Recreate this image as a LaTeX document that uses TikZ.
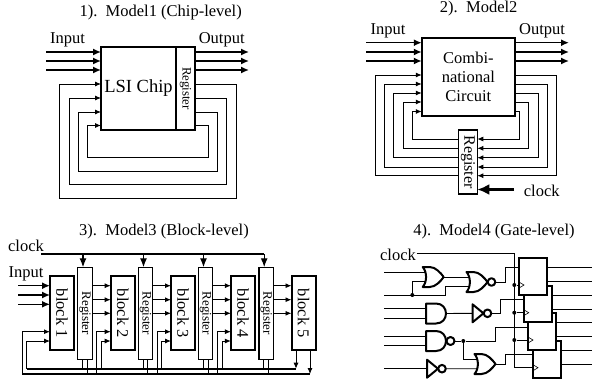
\documentclass[tikz,border=0pt]{standalone}
\usepackage{fontspec}
\setmainfont{Liberation Serif}
\usepackage{tikz}
\usetikzlibrary{arrows.meta}
\tikzset{
    txt/.style={inner sep=0pt, font=\fontsize{16.5}{19}\selectfont},
    bigbox/.style={draw, line width=2pt, inner sep=0pt, outer sep=0pt},
    regbox/.style={draw, line width=1.2pt, fill=white, rotate=-90, inner sep=0pt, outer sep=0pt},
    blockbox/.style={bigbox, rotate=-90, minimum width=74pt, minimum height=24pt, font=\fontsize{16.5}{19}\selectfont},
    busline/.style={line width=1.5pt, -{Latex[length=8pt,width=7pt]}},
    feed/.style={line width=0.9pt},
    feedarrow/.style={line width=0.9pt, -{Latex[length=6pt,width=5pt]}},
    wire/.style={line width=0.9pt},
    gateline/.style={line width=2pt, line join=round},
    ffbox/.style={bigbox, fill=white, minimum width=28pt, minimum height=36.7pt},
    wiredot/.style={shape=circle, fill=black, inner sep=0pt, minimum size=4pt},
    andgate/.pic={
        \draw[gateline] (-10,-10) -- (0,-10) .. controls (13.3,-10) and (13.3,10) .. (0,10) -- (-10,10) -- cycle;
        \coordinate (-in1) at (-10,-4.75);
        \coordinate (-in2) at (-10,4.75);
        \coordinate (-out) at (10,0);
    },
    orgate/.pic={
        \draw[gateline] (-10,-10) -- (-3,-10) .. controls (3,-10) and (8,-4) .. (11,0) .. controls (8,4) and (3,10) .. (-3,10) -- (-10,10) .. controls (-5.5,5) and (-5.5,-5) .. (-10,-10) -- cycle;
        \coordinate (-in1) at (-7,-4.75);
        \coordinate (-in2) at (-7,4.75);
        \coordinate (-out) at (11,0);
    },
    nandgate/.pic={
        \draw[gateline] (-10,-10) -- (0,-10) .. controls (13.3,-10) and (13.3,10) .. (0,10) -- (-10,10) -- cycle;
        \draw[gateline] (14.5,0) circle (4);
        \coordinate (-in1) at (-10,-4.75);
        \coordinate (-in2) at (-10,4.75);
        \coordinate (-out) at (18.5,0);
    },
    norgate/.pic={
        \draw[gateline] (-10,-10) -- (-3,-10) .. controls (3,-10) and (8,-4) .. (11,0) .. controls (8,4) and (3,10) .. (-3,10) -- (-10,10) .. controls (-5.5,5) and (-5.5,-5) .. (-10,-10) -- cycle;
        \draw[gateline] (15,0) circle (3.8);
        \coordinate (-in1) at (-7,-4.75);
        \coordinate (-in2) at (-7,4.75);
        \coordinate (-out) at (18.8,0);
    },
    notgate/.pic={
        \draw[gateline] (-5.5,-9) -- (5.5,0) -- (-5.5,9) -- cycle;
        \draw[gateline] (9.5,0) circle (3.8);
        \coordinate (-in) at (-5.5,0);
        \coordinate (-out) at (13.3,0);
    }
}
\begin{document}
\begin{tikzpicture}[x=1pt, y=-1pt]
        \useasboundingbox (0,0) rectangle (592,386);

        \node[txt] (titleA) at (160.7,12.7) {1).\ \ Model1 (Chip-level)};
        \node[txt] (inputA) at (67.5,40) {Input};
        \node[txt] (outputA) at (221.7,40) {Output};
        \node[bigbox, minimum width=75pt, minimum height=83pt, font=\fontsize{18.5}{20}\selectfont] (chip) at (138.5,88.5) {LSI Chip};
        \node[bigbox, rotate=-90, minimum width=83pt, minimum height=19pt, font=\fontsize{12.9}{14}\selectfont] (regA) at (185.5,88.5) {Register};
        \foreach \i/\yy in {1/52, 2/61, 3/70} {
            \coordinate (inA\i) at (46,\yy);
            \coordinate (outA\i) at (249,\yy);
            \draw[busline] (inA\i) to (chip.west |- inA\i);
            \draw[busline] (regA.north |- outA\i) to (outA\i);
        }
        \foreach \yy/\xl/\xr/\yb in {84/59.3/236/198.7, 98/69/226.5/184.7, 112/78/217.5/171, 125.5/87.3/208/157} {
            \draw[feedarrow] (regA.north |- 0,\yy) -- (\xr,\yy) -- (\xr,\yb) -- (\xl,\yb) -- (\xl,\yy) -- (chip.west |- 0,\yy);
        }

        \node[txt] (titleB) at (478.7,9) {2).\ \ Model2};
        \node[txt] (inputB) at (388,31) {Input};
        \node[txt] (outputB) at (542,31) {Output};
        \node[bigbox, minimum width=93.3pt, minimum height=77.5pt, align=center, font=\fontsize{16.5}{19}\selectfont] (comb) at (468.4,77.2) {Combi-\\national\\Circuit};
        \node[regbox, minimum width=64pt, minimum height=18.6pt, font=\fontsize{16}{18}\selectfont] (regB) at (468,162) {Register};
        \foreach \i/\yy in {1/42.7, 2/52, 3/61} {
            \coordinate (inB\i) at (366,\yy);
            \coordinate (outB\i) at (569,\yy);
            \draw[busline] (inB\i) to (comb.west |- inB\i);
            \draw[busline] (comb.east |- outB\i) to (outB\i);
        }
        \foreach \yy/\xl/\xr/\yb in {75/375.3/556.3/175.7, 84/384.5/547/167, 93/393.7/538/157.7, 102/403/528.7/148.3, 111.5/412.5/519.3/139} {
            \draw[feedarrow] (comb.east |- 0,\yy) -- (\xr,\yy) -- (\xr,\yb) -- (regB.north |- 0,\yb);
            \draw[feedarrow] (regB.south |- 0,\yb) -- (\xl,\yb) -- (\xl,\yy) -- (comb.west |- 0,\yy);
        }
        \node[txt] (clockB) at (541.7,191) {clock};
        \coordinate (clkB) at (514,189.5);
        \draw[line width=3pt, -{Latex[length=12pt,width=11pt]}] (clkB) to (regB.north |- clkB);

        \node[txt] (titleC) at (164,231.7) {3).\ \ Model3 (Block-level)};
        \node[txt] (clockC) at (26,246) {clock};
        \node[txt] (inputC) at (26,274) {Input};
        \coordinate (clkC) at (41,254);
        \coordinate (busA) at (26.7,368.7);
        \coordinate (busB) at (22.3,374);
        \foreach \i/\xx in {1/62, 2/122.7, 3/183, 4/242.9, 5/303.5} {
            \node[blockbox] (B\i) at (\xx,313.3) {block \i};
        }
        \foreach \i/\xx in {1/85, 2/145.5, 3/205.5, 4/266.2} {
            \node[regbox, minimum width=92pt, minimum height=14.3pt, font=\fontsize{13}{14}\selectfont] (R\i) at (\xx,313.3) {Register};
        }
        \draw[line width=1.3pt] (clkC) to (264,254);
        \foreach \i in {1,2,3,4} {
            \coordinate (clkT\i) at ([xshift=-2pt]R\i.west);
            \draw[line width=1.3pt, -{Latex[length=9pt,width=7pt]}] (clkT\i |- clkC) to (clkT\i);
        }
        \foreach \i/\yy in {1/285.7, 2/295, 3/304.3} {
            \coordinate (inC\i) at (18,\yy);
            \draw[busline] (inC\i) to (B1.south |- inC\i);
        }
        \foreach \i/\j in {1/2, 2/3, 3/4, 4/5} {
            \foreach \yy in {285.7, 299.7, 313.3} {
                \draw[feedarrow] (R\i.north |- 0,\yy) to (B\j.south |- 0,\yy);
            }
        }
        \foreach \j/\xa/\xb in {1/22.3/26.7, 2/96.7/101.3, 3/157/161.7, 4/217.7/222.3} {
            \draw[feedarrow] (\xa,0 |- busB) -- (\xa,331.7) -- (B\j.south |- 0,331.7);
            \draw[feedarrow] (\xb,0 |- busA) -- (\xb,341) -- (B\j.south |- 0,341);
        }
        \foreach \i/\xa/\xb in {1/82.7/87.3, 2/143/147.7, 3/203.3/208, 4/263.7/268.3} {
            \draw[feed] (\xa,0 |- R\i.east) to (\xa,0 |- busA);
            \draw[feed] (\xb,0 |- R\i.east) to (\xb,0 |- busB);
        }
        \draw[line width=1.6pt] (busA) to (296,368.7);
        \draw[line width=1.6pt] (busB) to (310,374);
        \draw[feedarrow] (296,0 |- B5.east) to (296,0 |- busA);
        \draw[feedarrow] (310,0 |- B5.east) to (310,0 |- busB);

        \node[txt] (titleD) at (494,231.7) {4).\ \ Model4 (Gate-level)};
        \node[txt] (clockD) at (398,255) {clock};
        \pic (G1) at (432.7,277) {orgate};
        \pic (G2) at (476.5,282) {norgate};
        \pic (G3) at (436,313.5) {andgate};
        \pic (G4) at (478,313.3) {notgate};
        \pic (G5) at (436,341) {nandgate};
        \pic (G6) at (432.5,368.7) {notgate};
        \pic (G7) at (484.5,364) {orgate};
        \foreach \i/\yy/\xx in {4/359.5/547, 3/331.7/542, 2/304/537.7, 1/276.7/533} {
            \node[ffbox] (FF\i) at (\xx,\yy) {};
        }
        \foreach \i/\yy in {1/267.3, 2/295, 3/322.3, 4/350} {
            \coordinate (outD\i) at (592,\yy);
            \draw[wire] (FF\i.east |- outD\i) to (outD\i);
            \coordinate (outE\i) at (592,\yy+14);
            \draw[wire] (FF\i.east |- outE\i) to (outE\i);
        }
        \coordinate (clkD) at (416.7,253.3);
        \coordinate (clkE) at (514.3,367.7);
        \draw[wire] (clkD) -| (clkE) -- (FF4.west |- clkE);
        \foreach \i/\yy in {1/285, 2/312.7, 3/340} {
            \node[wiredot] (dotC\i) at (514.3,\yy) {};
            \draw[wire] (dotC\i) to (FF\i.west |- dotC\i);
        }
        \foreach \i/\yy in {1/285, 2/312.7, 3/340, 4/367.7} {
            \draw[line width=0.6pt] (FF\i.west |- 0,\yy) ++(0,-3) -- ++(5,3) -- ++(-5,3);
        }
        \coordinate (inD1) at (384.3,272);
        \coordinate (inD2) at (384.3,295);
        \coordinate (inD3) at (384.3,309);
        \coordinate (inD4) at (384.3,318.3);
        \coordinate (inD5) at (384.3,336);
        \coordinate (inD6) at (384.3,345.7);
        \coordinate (inD7) at (384.3,368.7);
        \node[wiredot] (dotA) at (412.3,295) {};
        \node[wiredot] (dotB) at (463.3,341) {};
        \draw[wire] (inD1 |- G1-in1) to (G1-in1);
        \draw[wire] (inD2) -- (445,295) |- (G2-in2);
        \draw[wire] (dotA) |- (G1-in2);
        \draw[wire] (G1-out) |- (G2-in1);
        \draw[wire] (inD3 |- G3-in1) to (G3-in1);
        \draw[wire] (inD4 |- G3-in2) to (G3-in2);
        \draw[wire] (G3-out) to (G4-in);
        \draw[wire] (inD5 |- G5-in1) to (G5-in1);
        \draw[wire] (inD6 |- G5-in2) to (G5-in2);
        \draw[wire] (G5-out) to (dotB);
        \draw[wire] (inD7 |- G6-in) to (G6-in);
        \draw[wire] (dotB) |- (G7-in1);
        \draw[wire] (G6-out) to (G7-in2);
        \draw[wire] (G2-out) -- (505,282) |- (FF1.west |- 0,267.3);
        \draw[wire] (G4-out) -- (500,313.3) |- (FF2.west |- 0,299.3);
        \draw[wire] (dotB) -- (495.7,341) |- (FF3.west |- 0,327.3);
        \draw[wire] (G7-out) -- (505,364) |- (FF4.west |- 0,354.3);
    \end{tikzpicture}
\end{document}
